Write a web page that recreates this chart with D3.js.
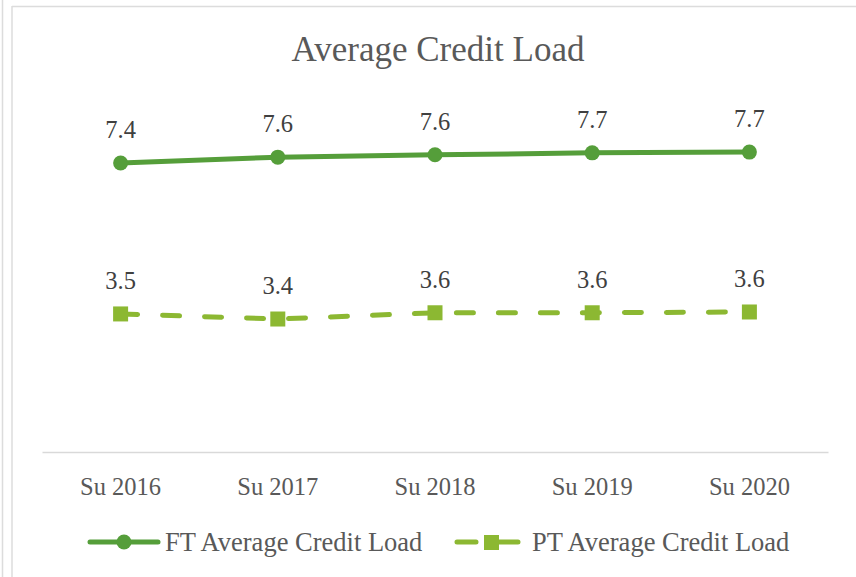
<!DOCTYPE html>
<html><head><meta charset="utf-8">
<script src="https://cdn.jsdelivr.net/npm/d3@7"></script>
<style>
html,body{margin:0;padding:0;background:#fff;}
svg{display:block;}
text{font-family:"Palatino Linotype","Book Antiqua",Palatino,"Liberation Serif",serif;}
</style></head>
<body>
<script>
const categories = ["Su 2016","Su 2017","Su 2018","Su 2019","Su 2020"];
const ftValues = [7.41, 7.56, 7.62, 7.67, 7.69];
const ptValues = [3.54, 3.41, 3.57, 3.57, 3.59];
const seriesNames = ["FT Average Credit Load","PT Average Credit Load"];
const title = "Average Credit Load";
const yDomain = [0, 10];

const W = 856, H = 577;
const ftColor = "#559e3a", ptColor = "#8cb832";
const svg = d3.select("body").append("svg").attr("width", W).attr("height", H);

// frame lines (screenshot borders)
svg.append("line").attr("x1",2.5).attr("x2",2.5).attr("y1",0).attr("y2",H).attr("stroke","#dcdcdc").attr("stroke-width",1.5);
svg.append("line").attr("x1",12).attr("x2",12).attr("y1",6).attr("y2",H).attr("stroke","#dcdcdc").attr("stroke-width",1.5);
svg.append("line").attr("x1",12).attr("x2",W).attr("y1",6.5).attr("y2",6.5).attr("stroke","#dcdcdc").attr("stroke-width",1.5);

const x = d3.scaleBand().domain(categories).range([42, 828]);
const y = d3.scaleLinear().domain(yDomain).range([452, 62]);
const cx = d => x(d) + x.bandwidth()/2;

svg.append("text").attr("x", 438).attr("y", 61).attr("text-anchor","middle")
  .attr("font-size", 35).attr("fill","#595959").text(title);

// x axis
const xAxis = svg.append("g").attr("transform","translate(0,452)")
  .call(d3.axisBottom(x).tickSize(0).tickPadding(26));
xAxis.select(".domain").attr("stroke","#d9d9d9").attr("stroke-width",1.5);
xAxis.selectAll("text").attr("font-size",24.5).attr("fill","#595959")
  .style("font-family",'"Palatino Linotype","Book Antiqua",Palatino,"Liberation Serif",serif');

const line = d3.line().x((d,i)=>cx(categories[i])).y(d=>y(d));

// FT
svg.append("path").datum(ftValues).attr("d", line).attr("fill","none")
  .attr("stroke", ftColor).attr("stroke-width",5).attr("stroke-linecap","round");
svg.selectAll(".ftpt").data(ftValues).join("circle")
  .attr("cx",(d,i)=>cx(categories[i])).attr("cy",d=>y(d)).attr("r",7.5).attr("fill",ftColor);
// PT
svg.append("path").datum(ptValues).attr("d", line).attr("fill","none")
  .attr("stroke", ptColor).attr("stroke-width",5).attr("stroke-linecap","round")
  .attr("stroke-dasharray","17,25");
svg.selectAll(".ptpt").data(ptValues).join("rect")
  .attr("x",(d,i)=>cx(categories[i])-7.5).attr("y",d=>y(d)-7.5)
  .attr("width",15).attr("height",15).attr("fill",ptColor);

const fmt = d3.format(".1f");
[ftValues, ptValues].forEach(vals=>{
  svg.append("g").selectAll("text").data(vals).join("text")
    .attr("x",(d,i)=>cx(categories[i])).attr("y",d=>y(d)-25)
    .attr("text-anchor","middle").attr("font-size",24.5).attr("fill","#404040")
    .text(d=>fmt(d));
});

// legend
const lg = svg.append("g");
lg.append("line").attr("x1",90).attr("x2",158).attr("y1",542).attr("y2",542)
  .attr("stroke",ftColor).attr("stroke-width",5).attr("stroke-linecap","round");
lg.append("circle").attr("cx",124).attr("cy",542).attr("r",7.5).attr("fill",ftColor);
lg.append("text").attr("x",165).attr("y",551).attr("font-size",26.5).attr("fill","#595959").text(seriesNames[0]);

lg.append("line").attr("x1",457).attr("x2",518).attr("y1",542).attr("y2",542)
  .attr("stroke",ptColor).attr("stroke-width",5).attr("stroke-linecap","round")
  .attr("stroke-dasharray","19,11,40");
lg.append("rect").attr("x",484).attr("y",535).attr("width",15).attr("height",15).attr("fill",ptColor);
lg.append("text").attr("x",532).attr("y",551).attr("font-size",26.5).attr("fill","#595959").text(seriesNames[1]);
</script>
</body></html>
